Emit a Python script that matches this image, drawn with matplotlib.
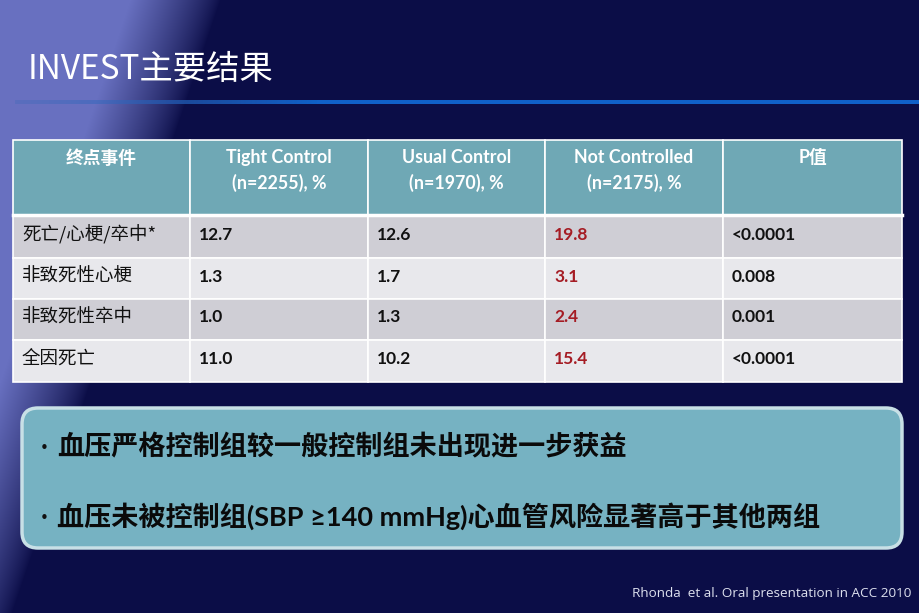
import numpy as np
import matplotlib
matplotlib.use("Agg")
import matplotlib.pyplot as plt
from matplotlib.patches import Rectangle, FancyBboxPatch

plt.rcParams['font.family'] = ['Noto Sans CJK SC', 'DejaVu Sans']

# ---- data ----
title = "INVEST主要结果"
headers = ["终点事件", "Tight Control\n(n=2255), %", "Usual Control\n(n=1970), %",
           "Not Controlled\n(n=2175), %", "P值"]
endpoints = ["死亡/心梗/卒中*", "非致死性心梗", "非致死性卒中", "全因死亡"]
tight = ["12.7", "1.3", "1.0", "11.0"]
usual = ["12.6", "1.7", "1.3", "10.2"]
notctrl = ["19.8", "3.1", "2.4", "15.4"]
pvals = ["<0.0001", "0.008", "0.001", "<0.0001"]
bullets = ["血压严格控制组较一般控制组未出现进一步获益",
           "血压未被控制组(SBP ≥140 mmHg)心血管风险显著高于其他两组"]
source = "Rhonda  et al. Oral presentation in ACC 2010"

W, H = 920, 613
fig = plt.figure(figsize=(W / 100, H / 100), dpi=100)
ax = fig.add_axes([0, 0, 1, 1])
ax.set_xlim(0, W)
ax.set_ylim(H, 0)
ax.axis('off')

# ---- background gradient ----
yy, xx = np.mgrid[0:H, 0:W]
dark = np.array([0x0b, 0x0d, 0x47]) / 255
light = np.array([0x68, 0x70, 0xc0]) / 255
edge = 220 - 0.34 * yy
t = np.clip((edge - xx) / 90.0, 0, 1) ** 0.8
img = dark[None, None, :] * (1 - t[..., None]) + light[None, None, :] * t[..., None]
ax.imshow(img, extent=[0, W, H, 0], zorder=0, aspect='auto')

# title
ax.text(28, 70, title, color='white', fontsize=24, va='center', ha='left',
        family=['Noto Sans CJK SC'])
# line under title
xs = np.linspace(15, W, 400)
line_img = np.zeros((1, len(xs), 4))
c0 = np.array([0x3a, 0x6a, 0xb8]) / 255
c1 = np.array([0x10, 0x60, 0xc8]) / 255
for i, x in enumerate(xs):
    f = min(1, (x - 15) / 300)
    line_img[0, i, :3] = c0 * (1 - f) + c1 * f
    line_img[0, i, 3] = 0.3 + 0.7 * f
ax.imshow(line_img, extent=[15, W, 104, 100], zorder=1, aspect='auto')

# ---- table ----
col_x = [13, 190, 368, 545, 723, 902]
row_y = [140, 215, 258, 299, 340, 382]
header_color = '#6fa8b5'
row_colors = ['#cfced5', '#e8e8ec']
lat = ['Lato', 'Noto Sans CJK SC']

for j, htxt in enumerate(headers):
    ax.add_patch(Rectangle((col_x[j], row_y[0]), col_x[j + 1] - col_x[j], row_y[1] - row_y[0],
                           facecolor=header_color, edgecolor='white', lw=1.2, zorder=2))
    ax.text((col_x[j] + col_x[j + 1]) / 2, 149, htxt, color='white', fontsize=12.8,
            fontweight='bold', ha='center', va='top', linespacing=1.5, family=lat, zorder=3)

columns = [endpoints, tight, usual, notctrl, pvals]
for i in range(len(endpoints)):
    y0, y1 = row_y[i + 1], row_y[i + 2]
    for j, col in enumerate(columns):
        ax.add_patch(Rectangle((col_x[j], y0), col_x[j + 1] - col_x[j], y1 - y0,
                               facecolor=row_colors[i % 2], edgecolor='white', lw=1.2, zorder=2))
        if j == 0:
            ax.text(col_x[j] + 9, (y0 + y1) / 2 - 2, col[i], color='#111111', fontsize=13.3,
                    ha='left', va='center', family=['Noto Sans CJK SC'], zorder=3)
        else:
            ax.text(col_x[j] + 9, (y0 + y1) / 2 - 2, col[i],
                    color='#a51c24' if j == 3 else '#111111', fontsize=12.5,
                    fontweight='bold', ha='left', va='center', family=lat, zorder=3)
# header/body separator thicker
ax.plot([col_x[0], col_x[-1]], [row_y[1], row_y[1]], color='white', lw=2.5, zorder=3)

# ---- rounded text box ----
box = FancyBboxPatch((22, 408), 880, 140, boxstyle="round,pad=0,rounding_size=16",
                     facecolor='#76b2c2', edgecolor='#c8e0e6', lw=2.5, zorder=2)
ax.add_patch(box)
for k, b in enumerate(bullets):
    y = 446 + k * 70
    ax.text(34, y + 3, "•", color='#111111', fontsize=15, ha='left', va='center', zorder=3)
    ax.text(57, y, b, color='#0a0a0a', fontsize=19.5, fontweight='bold', ha='left',
            va='center', family=['Lato', 'Noto Sans CJK SC', 'DejaVu Sans'], zorder=3)

# source
ax.text(911, 594, source, color='#dde0ee', fontsize=9.7, ha='right', va='center',
        family=['Open Sans', 'DejaVu Sans'])

fig.savefig('out.png', dpi=100)
